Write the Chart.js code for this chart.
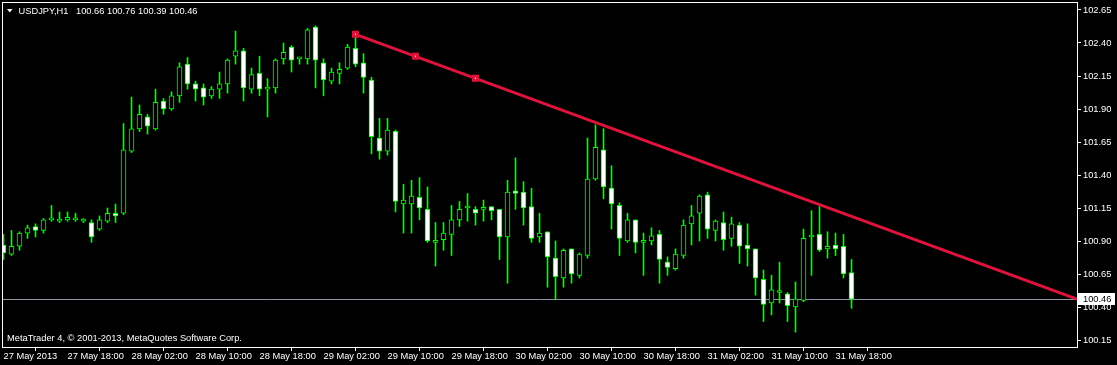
<!DOCTYPE html>
<html><head><meta charset="utf-8">
<script src="https://cdn.jsdelivr.net/npm/chart.js@4.4.1/dist/chart.umd.min.js"></script>
<style>html,body{margin:0;padding:0;background:#000;overflow:hidden}#wrap{position:relative;width:1117px;height:365px}</style>
</head><body><div id="wrap"><canvas id="c" width="1117" height="365"></canvas></div>
<script>
const symbol = 'USDJPY';
const timeframe = 'H1';
const copyright = 'MetaTrader 4, \u00a9 2001-2013, MetaQuotes Software Corp.';

const opens = [100.87,100.80,100.86,100.96,101.01,100.98,101.06,101.05,101.06,101.06,101.05,101.04,100.99,101.05,101.11,101.11,101.58,101.75,101.84,101.75,
101.96,101.90,102.00,102.24,102.09,102.06,102.00,102.05,102.09,102.30,102.34,102.05,102.17,102.05,102.06,102.28,102.37,102.28,102.28,102.52,
102.25,102.11,102.17,102.21,102.36,102.25,102.12,101.68,101.58,101.73,101.18,101.18,101.23,101.14,100.89,100.91,100.95,101.06,101.15,101.14,
101.14,101.16,101.14,100.93,101.28,101.27,101.16,100.93,100.97,100.77,100.62,100.84,100.64,100.79,101.37,101.59,101.30,101.17,100.90,101.06,
100.89,100.90,100.95,100.74,100.69,100.79,101.03,101.11,101.25,100.98,101.04,100.92,101.02,100.87,100.84,100.61,100.43,100.51,100.50,100.40,
100.45,100.93,100.95,100.84,100.87,100.86,100.66];
const highs = [100.95,100.98,100.97,101.02,101.03,101.07,101.17,101.12,101.12,101.11,101.07,101.06,101.09,101.15,101.18,101.79,101.99,101.93,101.86,102.05,
101.98,102.03,102.25,102.29,102.11,102.09,102.07,102.18,102.28,102.49,102.36,102.21,102.30,102.13,102.28,102.40,102.38,102.29,102.51,102.53,
102.28,102.21,102.25,102.39,102.47,102.32,102.14,101.83,101.83,101.74,101.33,101.36,101.38,101.31,101.04,101.04,101.17,101.20,101.26,101.16,
101.21,101.16,101.14,101.36,101.53,101.35,101.30,101.11,100.97,100.90,100.84,100.84,100.81,101.68,101.78,101.75,101.47,101.19,101.11,101.06,
100.96,101.00,100.98,100.78,100.84,101.06,101.17,101.25,101.27,101.06,101.12,101.08,101.04,101.03,100.84,100.68,100.64,100.74,100.51,100.59,
100.99,101.13,101.16,100.97,100.96,100.95,100.76];
const lows = [100.76,100.79,100.83,100.92,100.93,100.96,101.05,101.04,101.05,101.05,101.04,100.89,100.98,101.04,101.04,101.10,101.57,101.73,101.71,101.74,
101.86,101.89,101.95,102.05,101.96,101.93,101.98,101.98,102.02,102.24,101.96,102.02,102.00,101.84,102.02,102.24,102.18,102.24,102.24,102.06,
102.00,102.09,102.09,102.20,102.22,102.02,101.56,101.52,101.55,101.12,100.96,100.96,101.06,100.89,100.71,100.83,100.79,101.01,101.05,101.02,
101.05,101.06,100.76,100.58,101.14,101.02,100.89,100.89,100.55,100.46,100.55,100.58,100.62,100.77,101.36,101.22,100.99,100.79,100.89,100.81,
100.64,100.87,100.58,100.64,100.68,100.77,100.87,100.90,100.92,100.90,100.83,100.86,100.73,100.71,100.49,100.29,100.34,100.43,100.29,100.21,
100.44,100.64,100.82,100.77,100.79,100.62,100.39];
const closes = [100.81,100.86,100.96,101.00,100.98,101.06,101.06,101.05,101.08,101.06,101.05,100.93,101.06,101.11,101.09,101.59,101.75,101.86,101.77,101.95,
101.90,102.00,102.22,102.09,102.05,101.99,102.05,102.09,102.27,102.34,102.06,102.16,102.05,102.06,102.27,102.33,102.27,102.28,102.50,102.27,
102.12,102.18,102.20,102.37,102.24,102.14,101.69,101.58,101.74,101.20,101.21,101.24,101.15,100.90,100.89,100.96,101.06,101.14,101.15,101.11,
101.14,101.13,100.93,101.27,101.26,101.15,100.92,100.96,100.78,100.63,100.83,100.65,100.80,101.37,101.61,101.31,101.18,100.92,101.06,100.89,
100.89,100.94,100.76,100.70,100.80,101.02,101.09,101.24,100.99,101.05,100.91,101.03,100.86,100.84,100.62,100.42,100.53,100.51,100.41,100.46,
100.92,100.93,100.83,100.86,100.84,100.65,100.46];

const xTickBars = [0,8,16,24,32,40,48,56,64,72,80,88,96,104];
const xTickLabels = ['27 May 2013','27 May 18:00','28 May 02:00','28 May 10:00','28 May 18:00','29 May 02:00','29 May 10:00',
  '29 May 18:00','30 May 02:00','30 May 10:00','30 May 18:00','31 May 02:00','31 May 10:00','31 May 18:00'];
const yTickValues = [100.15,100.40,100.65,100.90,101.15,101.40,101.65,101.90,102.15,102.40,102.65];

const trendX = [44, 134.1875];
const trendY = [102.466, 100.46];
const markerX = [44, 51.5, 59];
const markerY = [102.466, 102.30, 102.133];

const FONT = 'Liberation Sans';
const FS = 9.3;
const lastIdx = closes.length - 1;

const mt4 = {
  id: 'mt4',
  beforeDraw(chart) {
    const c = chart.ctx;
    c.save(); c.fillStyle = '#000'; c.fillRect(0, 0, chart.width, chart.height); c.restore();
  },
  beforeDatasetsDraw(chart) {
    const c = chart.ctx, a = chart.chartArea;
    const y = Math.round(chart.scales.y.getPixelForValue(closes[lastIdx])) + 0.5;
    c.save();
    c.strokeStyle = '#8a95a0'; c.lineWidth = 1;
    c.beginPath(); c.moveTo(a.left, y); c.lineTo(a.right, y); c.stroke();
    c.restore();
  },
  afterDraw(chart) {
    const c = chart.ctx, a = chart.chartArea;
    c.save();
    c.strokeStyle = '#ffffff'; c.lineWidth = 1;
    c.strokeRect(a.left + 0.5, a.top + 0.5, a.right - a.left, a.bottom - a.top);
    c.fillStyle = '#ffffff';
    c.beginPath(); c.moveTo(7, 9); c.lineTo(12.5, 9); c.lineTo(9.75, 12.5); c.closePath(); c.fill();
    c.font = FS + 'px "' + FONT + '"';
    c.textBaseline = 'middle'; c.textAlign = 'left';
    c.fillText(symbol + ',' + timeframe, 18.5, 11);
    c.fillText([opens[lastIdx], highs[lastIdx], lows[lastIdx], closes[lastIdx]].map(v => v.toFixed(2)).join(' '), 76, 11);
    c.fillText(copyright, 7, 338.5);
    const y = Math.round(chart.scales.y.getPixelForValue(closes[lastIdx]));
    c.fillStyle = '#ffffff';
    c.fillRect(1078, y - 6, 37, 12);
    c.fillStyle = '#000000';
    c.fillText(closes[lastIdx].toFixed(2), 1083, y + 0.5);
    c.restore();
  }
};

const bodyData = opens.map((o, i) => ({ x: i, y: [o, closes[i]] }));
const wickData = lows.map((l, i) => ({ x: i, y: [l, highs[i]] }));

function zeroPad(s) { s.paddingLeft = 0; s.paddingRight = 0; s.paddingTop = 0; s.paddingBottom = 0; }

new Chart(document.getElementById('c'), {
  type: 'bar',
  data: {
    datasets: [
      { type: 'line', data: markerX.map((x, i) => ({ x, y: markerY[i] })), showLine: false,
        pointStyle: 'rect', pointRadius: 0.75, pointBackgroundColor: '#ffffff', pointBorderWidth: 0, order: -1, clip: 0 },
      { type: 'line', data: markerX.map((x, i) => ({ x, y: markerY[i] })), showLine: false,
        pointStyle: 'rect', pointRadius: 5, pointBackgroundColor: '#DC143C', pointBorderWidth: 0, order: 0, clip: 0 },
      { type: 'line', data: trendX.map((x, i) => ({ x, y: trendY[i] })), borderColor: '#DC143C', borderWidth: 3,
        pointRadius: 0, order: 1, clip: 0 },
      { type: 'bar', data: bodyData,
        backgroundColor: opens.map((o, i) => closes[i] < o ? '#ffffff' : '#000000'),
        borderColor: '#00ff00', borderWidth: 1, borderSkipped: false, barThickness: 5, minBarLength: 2,
        grouped: false, order: 2, clip: 0 },
      { type: 'bar', data: wickData, backgroundColor: '#00ff00', borderWidth: 0, barThickness: 1,
        grouped: false, order: 3, clip: 0 }
    ]
  },
  options: {
    responsive: false, animation: false, devicePixelRatio: 1,
    layout: { autoPadding: false, padding: { left: 2, top: 2, right: 0, bottom: 0 } },
    plugins: { legend: { display: false }, tooltip: { enabled: false } },
    events: [],
    scales: {
      x: {
        type: 'linear', offset: false, min: -0.1875, max: 134.1875,
        afterBuildTicks: s => { s.ticks = xTickBars.map(v => ({ value: v })); },
        afterFit: s => { s.height = 18; zeroPad(s); },
        border: { display: false },
        grid: { drawOnChartArea: false, drawTicks: true, tickLength: 4, color: '#ffffff', lineWidth: 1 },
        ticks: { autoSkip: false, maxRotation: 0, align: 'start', padding: 0, color: '#ffffff',
          font: { family: FONT, size: FS },
          callback: (v, i) => xTickLabels[i] }
      },
      y: {
        type: 'linear', position: 'right', min: 100.097, max: 102.7106,
        afterBuildTicks: s => { s.ticks = yTickValues.map(v => ({ value: v })); },
        afterFit: s => { s.width = 40; zeroPad(s); },
        border: { display: false },
        grid: { drawOnChartArea: false, drawTicks: true, tickLength: 4, color: '#ffffff', lineWidth: 1 },
        ticks: { padding: 2, color: '#ffffff', font: { family: FONT, size: FS },
          callback: v => Number(v).toFixed(2) }
      }
    }
  },
  plugins: [mt4]
});
</script></body></html>
